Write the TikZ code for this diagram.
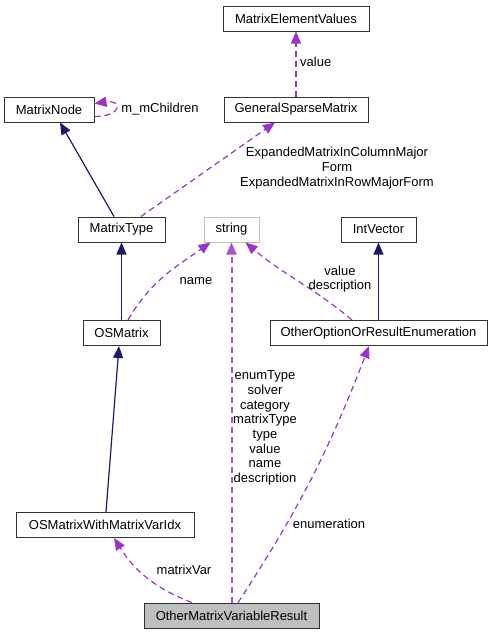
\documentclass[tikz,border=0pt]{standalone}
\usepackage{fontspec}
\setmainfont{Liberation Sans}
\usetikzlibrary{arrows.meta}
\definecolor{inhblue}{RGB}{25,25,112}
\definecolor{usepurple}{RGB}{154,50,205}
\tikzset{
  cls/.style={draw=black!80,line width=1pt,minimum height=25pt,inner sep=0pt},
  inherit/.style={inhblue,line width=1.2pt,-{Triangle[length=12pt,width=10pt]}},
  usage/.style={usepurple,line width=1.2pt,dash pattern=on 6pt off 4pt,-{Triangle[length=12pt,width=10pt]}},
  lbl/.style={align=center,inner sep=0pt}
}
\begin{document}
\begin{tikzpicture}[x=1pt,y=1pt,font=\fontsize{13}{14.7}\selectfont]
  \useasboundingbox (0,0) rectangle (492,-635);
  % classes
  \node[cls,minimum width=146pt] (mev) at (296,-18.5) {MatrixElementValues};
  \node[cls,minimum width=90pt] (mn) at (49,-109.5) {MatrixNode};
  \node[cls,minimum width=144pt] (gsm) at (296,-109.5) {GeneralSparseMatrix};
  \node[cls,minimum width=87pt] (mt) at (121.5,-229.5) {MatrixType};
  \node[cls,draw=black!25,minimum width=55pt] (str) at (231.5,-229.5) {string};
  \node[cls,minimum width=75pt] (iv) at (378.5,-229.5) {IntVector};
  \node[cls,minimum width=77pt] (osm) at (121.5,-333) {OSMatrix};
  \node[cls,minimum width=217pt] (ooe) at (378.5,-333) {OtherOptionOrResultEnumeration};
  \node[cls,minimum width=178pt] (osmw) at (105,-525) {OSMatrixWithMatrixVarIdx};
  \node[cls,fill=black!25,minimum width=175pt] (omvr) at (231.5,-615.7) {OtherMatrixVariableResult};
  % inheritance
  \draw[inherit] ([xshift=-7.5pt]mt.north) -- ([xshift=11pt]mn.south);
  \draw[inherit] (osm.north) -- (mt.south);
  \draw[inherit] (ooe.north) -- (iv.south);
  \draw[inherit] ([xshift=1pt]osmw.north) -- ([xshift=-2.5pt]osm.south);
  % usage
  \draw[usage] (gsm.north) -- (mev.south);
  \node[lbl,anchor=west] (lvalue) at (300,-62) {value};
  \draw[usage] ([yshift=-7pt]mn.east) .. controls +(28,0) and +(28,4) .. ([yshift=6pt]mn.east);
  \node[lbl] (lchildren) at (160,-109) {m\_mChildren};
  \draw[usage] ([xshift=19.5pt]mt.north) -- ([xshift=-21pt]gsm.south);
  \node[lbl] (lexpanded) at (337,-168) {ExpandedMatrixInColumnMajor\\Form\\ExpandedMatrixInRowMajorForm};
  \draw[usage] ([xshift=6.5pt]osm.north) to[out=60,in=-145] ([xshift=-21pt]str.south);
  \node[lbl] (lname) at (196,-281) {name};
  \draw[usage] ([xshift=-26.5pt]ooe.north) to[out=140,in=-40] ([xshift=14pt]str.south);
  \node[lbl] (lvaldesc) at (340,-279) {value\\description};
  \draw[usage,usepurple!85,line width=2pt] (omvr.north) -- (str.south);
  \node[lbl] (lmembers) at (265,-428) {enumType\\solver\\category\\matrixType\\type\\value\\name\\description};
  \draw[usage] ([xshift=6.5pt]omvr.north) to[bend right=6] ([xshift=-9.5pt]ooe.south);
  \node[lbl] (lenum) at (329,-524) {enumeration};
  \draw[usage] ([xshift=-39.5pt]omvr.north) to[bend left=18] ([xshift=9pt]osmw.south);
  \node[lbl] (lmatvar) at (184,-570) {matrixVar};
\end{tikzpicture}
\end{document}
